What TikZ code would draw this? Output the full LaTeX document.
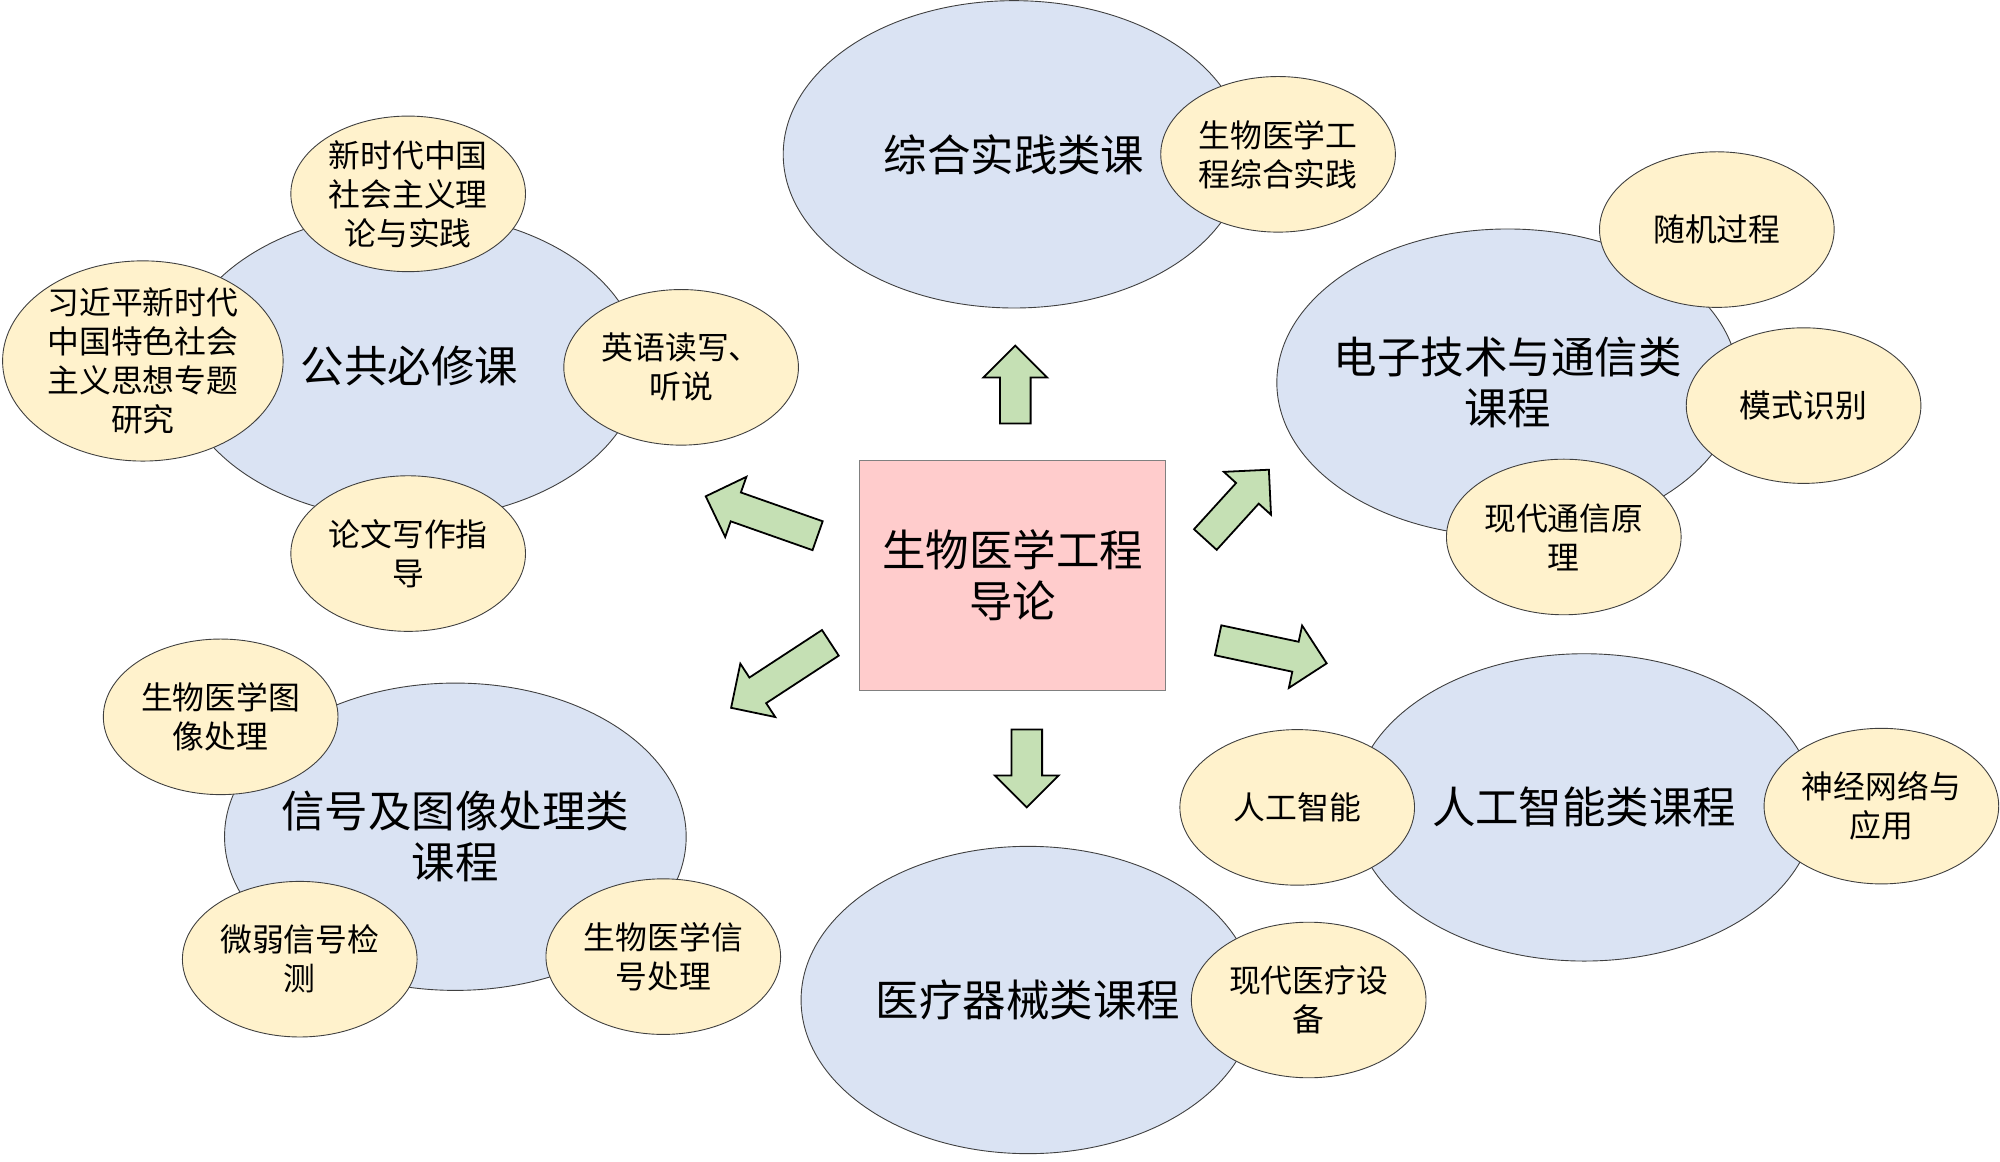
\documentclass[tikz,border=0pt]{standalone}
\usepackage{fontspec}
\newfontfamily\cjkfont{Noto Sans CJK SC}
\usetikzlibrary{shapes.geometric}

\definecolor{groupblue}{HTML}{DAE3F3}
\definecolor{courseyellow}{HTML}{FFF2CC}
\definecolor{arrowgreen}{HTML}{C5E0B4}
\definecolor{intropink}{HTML}{FFCCCC}
\definecolor{rimgray}{HTML}{404040}

\tikzset{
  every group/.style={ellipse, draw=rimgray, fill=groupblue, line width=0.4pt,
    minimum width=7.24cm, minimum height=4.82cm, inner sep=0pt},
  group medical/.style={minimum width=7.12cm},
  group text/.style={align=center, inner sep=0pt,
    font=\cjkfont\fontsize{19.4}{22.8}\selectfont},
  every course/.style={ellipse, draw=rimgray, fill=courseyellow, line width=0.4pt,
    minimum width=3.68cm, minimum height=2.44cm, inner sep=0pt},
  course xi/.style={minimum width=4.4cm, minimum height=3.14cm},
  course text/.style={align=center, inner sep=0pt,
    font=\cjkfont\fontsize{14.2}{17.4}\selectfont},
  intro/.style={rectangle, draw=gray, fill=intropink, line width=0.4pt,
    minimum width=4.8cm, minimum height=3.6cm, align=center,
    font=\cjkfont\fontsize{19.4}{22.8}\selectfont},
  block arrow/.style={draw=black, fill=arrowgreen, line width=0.8pt, line join=miter}
}

\begin{document}
\begin{tikzpicture}[x=0.02cm, y=-0.02cm]

\path [use as bounding box, fill=white] (0,0) rectangle (1568,911);

% course groups
\foreach \m/\x/\y/\l in {practice/795/121/{综合实践类课},
    public/321/287/{公共必修课},
    electronics/1182/300/{电子技术与通信类\\课程},
    ai/1242/633/{人工智能类课程},
    medical/806/784/{医疗器械类课程},
    signal/357/656/{信号及图像处理类\\课程}}
  {
  \node [every group, group \m/.try] (group-\m) at (\x,\y) {};
  \node [group text] (group-\m-text) at (group-\m) {\l};
  }

\node [intro] (intro) at (794,451) {生物医学工程\\导论};

% single courses
\foreach \m/\x/\y/\l in {theory/320/152/{新时代中国\\社会主义理\\论与实践},
    xi/112/283/{习近平新时代\\中国特色社会\\主义思想专题\\研究},
    english/534/288/{英语读写、\\听说},
    writing/320/434/{论文写作指\\导},
    bmepractice/1002/121/{生物医学工\\程综合实践},
    random/1346/180/{随机过程},
    pattern/1414/318/{模式识别},
    comm/1226/421/{现代通信原\\理},
    aibasic/1017/633/{人工智能},
    neural/1475/632/{神经网络与\\应用},
    equipment/1026/784/{现代医疗设\\备},
    image/173/562/{生物医学图\\像处理},
    weak/235/752/{微弱信号检\\测},
    biosignal/520/750/{生物医学信\\号处理}}
  {
  \node [every course, course \m/.try] (course-\m) at (\x,\y) {};
  \node [course text] (course-\m-text) at (course-\m) {\l};
  }

% arrows: tail x / tail y / angle / length
\foreach \x/\y/\a/\n in {796/332/90/61, 805/572/-90/61,
    641/420/160.6/93, 945/423/47.7/74,
    955/502/-12/87, 651/504/-146.8/93}
  \draw [block arrow, shift={(\x,\y)}, rotate=\a]
    (0,-12) -- (\n-25,-12) -- (\n-25,-25) -- (\n,0)
    -- (\n-25,25) -- (\n-25,12) -- (0,12) -- cycle;

\end{tikzpicture}
\end{document}
